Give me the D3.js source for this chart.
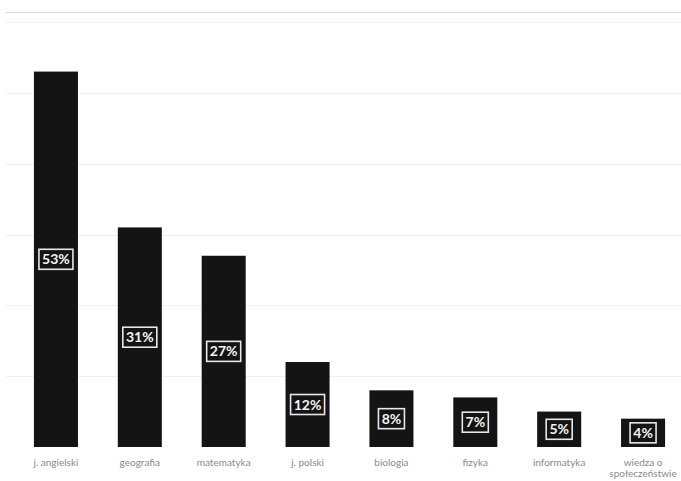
<!DOCTYPE html>
<html>
<head>
<meta charset="utf-8">
<script src="https://cdn.jsdelivr.net/npm/d3@7"></script>
<style>
    body { margin: 0; background: #fff; }
    text { font-family: Lato, "Open Sans", sans-serif; }
</style>
</head>
<body>
<div id="chart"></div>
<script>
// subjects and their share (%)
const subjects = ["j. angielski", "geografia", "matematyka", "j. polski", "biologia", "fizyka", "informatyka", "wiedza o społeczeństwie"]
const shares = [53, 31, 27, 12, 8, 7, 5, 4]
const gridTicks = [0, 10, 20, 30, 40, 50, 60]

const W = 681, H = 481
const margin = {top: 22, right: -4, bottom: 34, left: 14}
const width = W - margin.left - margin.right
const height = H - margin.top - margin.bottom

const svg = d3.select("#chart")
    .append("svg")
    .attr("width", W)
    .attr("height", H)

// top separator line
svg.append("line")
    .attr("x1", 6).attr("x2", W)
    .attr("y1", 12.5).attr("y2", 12.5)
    .attr("stroke", "#d8d8d8")
    .attr("stroke-width", 1)

const g = svg.append("g")
    .attr("transform", "translate(" + margin.left + "," + margin.top + ")")

const x = d3.scaleBand()
    .domain(subjects)
    .range([0, width])
    .paddingInner(0.475)
    .paddingOuter(0.2375)

const y = d3.scaleLinear()
    .domain([0, 60])
    .range([height, 0])

// faint gridlines
g.append("g")
    .selectAll("line")
    .data(gridTicks.slice(1))
    .enter()
    .append("line")
    .attr("x1", -8).attr("x2", width)
    .attr("y1", d => Math.round(y(d)) + 0.5)
    .attr("y2", d => Math.round(y(d)) + 0.5)
    .attr("stroke", "#efefef")
    .attr("stroke-width", 1)

const data = subjects.map((s, i) => ({name: s, value: shares[i]}))

g.selectAll(".bar")
    .data(data)
    .enter()
    .append("rect")
    .attr("class", "bar")
    .attr("x", d => x(d.name))
    .attr("y", d => y(d.value))
    .attr("width", x.bandwidth())
    .attr("height", d => y(0) - y(d.value))
    .attr("fill", "#141414")

// value labels with white outlined box
const lab = g.selectAll(".lab")
    .data(data)
    .enter()
    .append("g")
    .attr("class", "lab")
    .attr("transform", d => "translate(" + (x(d.name) + x.bandwidth() / 2) + "," + (y(d.value) + y(0)) / 2 + ")")

lab.append("rect")
    .attr("x", d => d.value >= 10 ? -17 : -13)
    .attr("y", -10)
    .attr("width", d => d.value >= 10 ? 34 : 26)
    .attr("height", 20)
    .attr("fill", "none")
    .attr("stroke", "#e8e8e8")
    .attr("stroke-width", 1.6)

lab.append("text")
    .attr("text-anchor", "middle")
    .attr("dy", "0.36em")
    .attr("fill", "#f4f4f4")
    .attr("font-size", 14)
    .attr("font-weight", "bold")
    .text(d => d.value + "%")

// category labels
const xAxis = g.append("g")
    .attr("transform", "translate(0," + height + ")")

xAxis.selectAll("text")
    .data(subjects)
    .enter()
    .append("text")
    .attr("x", d => x(d) + x.bandwidth() / 2)
    .attr("y", 19)
    .attr("text-anchor", "middle")
    .attr("fill", "#8a8a8a")
    .attr("font-size", 10)
    .each(function(d) {
        const t = d3.select(this)
        if (d === "wiedza o społeczeństwie") {
            t.append("tspan").attr("x", x(d) + x.bandwidth() / 2).text("wiedza o")
            t.append("tspan").attr("x", x(d) + x.bandwidth() / 2).attr("dy", 11).text("społeczeństwie")
        } else {
            t.text(d)
        }
    })
</script>
</body>
</html>
